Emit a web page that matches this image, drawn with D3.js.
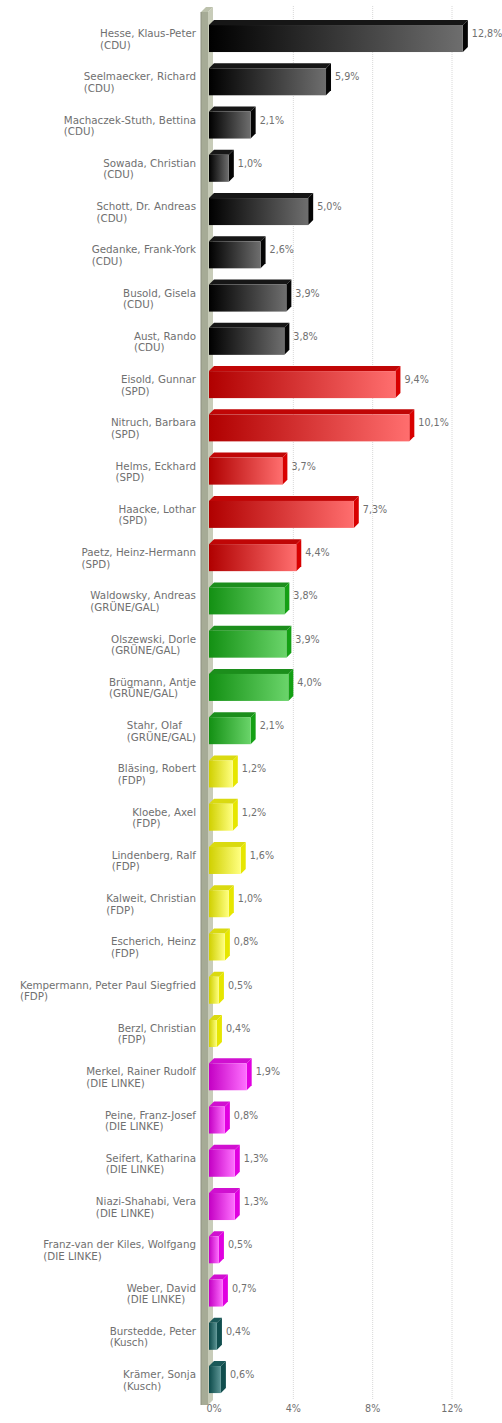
<!DOCTYPE html>
<html>
<head>
<meta charset="utf-8">
<script src="https://cdn.jsdelivr.net/npm/d3@7"></script>
<style>
  body { margin: 0; background: #fff; }
  svg { display: block; }
  .lbl, .val, .tick text { font-family: "DejaVu Sans", Verdana, sans-serif; fill: #707070; }
  .lbl { font-size: 10.3px; }
  .val, .tick text { font-size: 9.6px; }
</style>
</head>
<body>
<svg id="chart" width="502" height="1423"></svg>
<script>
const names = [
  'Hesse, Klaus-Peter', 'Seelmaecker, Richard', 'Machaczek-Stuth, Bettina', 'Sowada, Christian',
  'Schott, Dr. Andreas', 'Gedanke, Frank-York', 'Busold, Gisela', 'Aust, Rando',
  'Eisold, Gunnar', 'Nitruch, Barbara', 'Helms, Eckhard', 'Haacke, Lothar', 'Paetz, Heinz-Hermann',
  'Waldowsky, Andreas', 'Olszewski, Dorle', 'Brügmann, Antje', 'Stahr, Olaf',
  'Bläsing, Robert', 'Kloebe, Axel', 'Lindenberg, Ralf', 'Kalweit, Christian', 'Escherich, Heinz',
  'Kempermann, Peter Paul Siegfried', 'Berzl, Christian',
  'Merkel, Rainer Rudolf', 'Peine, Franz-Josef', 'Seifert, Katharina', 'Niazi-Shahabi, Vera',
  'Franz-van der Kiles, Wolfgang', 'Weber, David',
  'Burstedde, Peter', 'Krämer, Sonja'
]
const parties = [
  'CDU', 'CDU', 'CDU', 'CDU', 'CDU', 'CDU', 'CDU', 'CDU',
  'SPD', 'SPD', 'SPD', 'SPD', 'SPD',
  'GRÜNE/GAL', 'GRÜNE/GAL', 'GRÜNE/GAL', 'GRÜNE/GAL',
  'FDP', 'FDP', 'FDP', 'FDP', 'FDP', 'FDP', 'FDP',
  'DIE LINKE', 'DIE LINKE', 'DIE LINKE', 'DIE LINKE', 'DIE LINKE', 'DIE LINKE',
  'Kusch', 'Kusch'
]
const values = [
  12.8, 5.9, 2.1, 1.0, 5.0, 2.6, 3.9, 3.8,
  9.4, 10.1, 3.7, 7.3, 4.4,
  3.8, 3.9, 4.0, 2.1,
  1.2, 1.2, 1.6, 1.0, 0.8, 0.5, 0.4,
  1.9, 0.8, 1.3, 1.3, 0.5, 0.7,
  0.4, 0.6
]
const ticks = [0, 4, 8, 12]

// party colours: front gradient left/right, top face, right side
const partyColors = {
  'CDU':       { a: '#000000', b: '#6e6e6e', top: '#161616', side: '#050505' },
  'SPD':       { a: '#b00000', b: '#ff6e6e', top: '#c00606', side: '#d80000' },
  'GRÜNE/GAL': { a: '#139013', b: '#6ad46a', top: '#1c8e1c', side: '#14a014' },
  'FDP':       { a: '#d0d000', b: '#ffff80', top: '#dada10', side: '#e6e600' },
  'DIE LINKE': { a: '#c400c4', b: '#ff70ff', top: '#d010d0', side: '#e000e0' },
  'Kusch':     { a: '#0c4a4a', b: '#5e9696', top: '#1a5858', side: '#104e4e' }
}

const svg = d3.select('#chart')
const depth = 5

const x = d3.scaleLinear().domain([0, 12]).range([214, 452])
const y = d3.scaleBand().domain(d3.range(names.length)).range([14.4, 1398.7]).paddingInner(0.26).paddingOuter(0.13)

const defs = svg.append('defs')
Object.entries(partyColors).forEach(([p, c], i) => {
  const grad = defs.append('linearGradient').attr('id', 'g' + i).attr('x1', 0).attr('x2', 1).attr('y1', 0).attr('y2', 0)
  grad.append('stop').attr('offset', '0%').attr('stop-color', c.a)
  grad.append('stop').attr('offset', '100%').attr('stop-color', c.b)
  c.grad = 'url(#g' + i + ')'
})

// gridlines
svg.append('g')
  .selectAll('line')
  .data(ticks.slice(1))
  .join('line')
  .attr('x1', d => x(d)).attr('x2', d => x(d))
  .attr('y1', 6).attr('y2', 1400)
  .attr('stroke', '#d8d8d8')
  .attr('stroke-dasharray', '1,1')

// left wall
const wall = svg.append('g')
wall.append('path')
  .attr('d', 'M201,12 L208,12 L208,1405 L201,1405 Z')
  .attr('fill', '#a6ab96')
wall.append('path')
  .attr('d', 'M208,12 L213,7 L213,1400 L208,1405 Z')
  .attr('fill', '#c8ccb9')
wall.append('path')
  .attr('d', 'M201,12 L206,7 L213,7 L208,12 Z')
  .attr('fill', '#bcc1ac')
wall.append('line')
  .attr('x1', 201).attr('x2', 201).attr('y1', 12).attr('y2', 1405)
  .attr('stroke', '#8c907e').attr('stroke-width', 1)

// bars
const bars = svg.append('g')
  .selectAll('g')
  .data(values.map((v, i) => ({ v, i, c: partyColors[parties[i]] })))
  .join('g')

bars.append('path')
  .attr('fill', d => d.c.top)
  .attr('d', d => {
    const t = y(d.i), x0 = x(0), x1 = x(d.v)
    return `M${x0 - depth},${t + depth} L${x0},${t} L${x1},${t} L${x1 - depth},${t + depth} Z`
  })
bars.append('path')
  .attr('fill', d => d.c.side)
  .attr('d', d => {
    const t = y(d.i), b = t + y.bandwidth(), x1 = x(d.v)
    return `M${x1 - depth},${t + depth} L${x1},${t} L${x1},${b - depth} L${x1 - depth},${b} Z`
  })
bars.append('rect')
  .attr('x', x(0) - depth)
  .attr('y', d => y(d.i) + depth)
  .attr('width', d => x(d.v) - x(0))
  .attr('height', y.bandwidth() - depth)
  .attr('fill', d => d.c.grad)

// value labels
bars.append('text')
  .attr('class', 'val')
  .attr('x', d => x(d.v) + 4)
  .attr('y', d => y(d.i) + y.bandwidth() / 2 + 1)
  .text(d => d.v.toFixed(1).replace('.', ',') + '%')

// category labels: block right-aligned, lines left-aligned
const labels = svg.append('g')
  .selectAll('text')
  .data(names.map((n, i) => ({ n, p: parties[i], i })))
  .join('text')
  .attr('class', 'lbl')

labels.each(function (d) {
  const t = d3.select(this)
  const cy = y(d.i) + y.bandwidth() / 2
  t.append('tspan').attr('y', cy + 1).text(d.n)
  t.append('tspan').attr('y', cy + 12.5).text('(' + d.p + ')')
  const w = d3.max(t.selectAll('tspan').nodes(), s => s.getComputedTextLength())
  t.selectAll('tspan').attr('x', 196 - w)
})

// x axis tick labels
svg.append('g')
  .attr('class', 'tick')
  .selectAll('text')
  .data(ticks)
  .join('text')
  .attr('x', d => x(d))
  .attr('y', 1412)
  .attr('text-anchor', 'middle')
  .text(d => d + '%')
</script>
</body>
</html>
